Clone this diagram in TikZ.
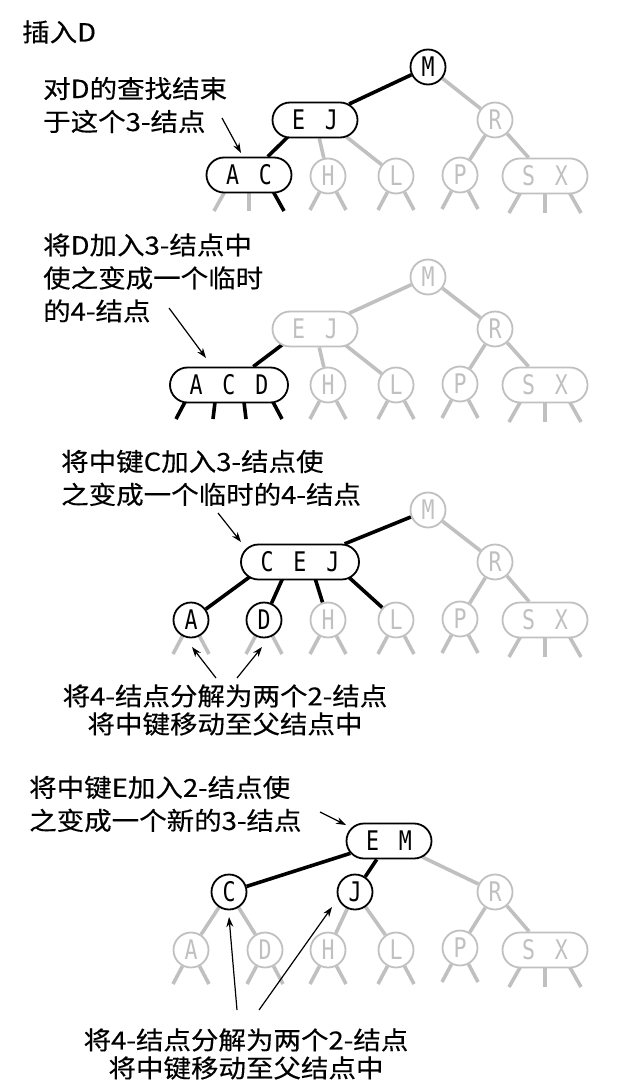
\documentclass[tikz,border=0pt]{standalone}
\usepackage{fontspec}
\usepackage{tikz}
\usetikzlibrary{calc}
\usetikzlibrary{shapes.misc}
\usetikzlibrary{arrows.meta}
\usetikzlibrary{backgrounds}

\newfontfamily\notefam{Noto Sans CJK SC}[FakeStretch=1.1, FakeBold=0.3]
\newfontfamily\keyfam{DejaVu Sans Mono}[FakeStretch=0.8]
\definecolor{lite}{RGB}{192,192,192}
\newcommand{\kbox}[1]{\makebox[33pt]{#1}}

\begin{document}
\begin{tikzpicture}[x=1pt, y=-1pt,
    key/.style={circle, draw=black, line width=1.8pt, fill=white, minimum size=35pt, inner sep=0pt, font=\keyfam\fontsize{27}{27}\selectfont},
    gkey/.style={key, draw=lite, text=lite},
    two/.style={rounded rectangle, draw=black, line width=1.8pt, fill=white, minimum width=85pt, minimum height=35pt, inner sep=0pt, font=\keyfam\fontsize{27}{27}\selectfont},
    gtwo/.style={two, draw=lite, text=lite},
    three/.style={two, minimum width=118pt},
    link/.style={line width=3.6pt, black},
    glink/.style={line width=3.6pt, lite},
    note/.style={font=\notefam\fontsize{25}{33}\selectfont, align=left, anchor=west, inner sep=0pt},
    split/.style={font=\notefam\fontsize{25}{28}\selectfont, align=center, inner sep=0pt},
    ptr/.style={line width=1.2pt, -{Stealth[length=10pt,width=7pt]}}]
    \useasboundingbox (0,0) rectangle (617,1086);

    % search for D
    \node[note] (title) at (22,32) {插入D};
    \node[note] (t1) at (43,105) {对D的查找结束\\于这个3-结点};
    \node[key] (M1) at (428,67) {M};
    \node[two] (EJ1) at (315,120) {\kbox{E}\kbox{J}};
    \node[gkey] (R1) at (495,120) {R};
    \node[two] (AC1) at (249,175) {\kbox{A}\kbox{C}};
    \node[gkey] (H1) at (328,176) {H};
    \node[gkey] (L1) at (396,176) {L};
    \node[gkey] (P1) at (460,175) {P};
    \node[gtwo] (SX1) at (545,176) {\kbox{S}\kbox{X}};
    \coordinate (a1s) at (222,118);
    \coordinate (a1e) at (241,153);
    \draw[ptr] (a1s) -- (a1e);
    \begin{scope}[on background layer]
        \draw[link] (M1) -- (EJ1);
        \draw[glink] (M1) -- (R1);
        \draw[link] ($(EJ1)+(-10,0)$) -- (AC1);
        \draw[glink] (EJ1) -- (H1);
        \draw[glink] ($(EJ1)+(10,0)$) -- (L1);
        \draw[glink] (R1) -- (P1);
        \draw[glink] (R1) -- (SX1);
        \draw[glink] ($(AC1)+(-15,0)$) -- ++(-20,36);
        \draw[glink] (AC1) -- ++(0,36);
        \draw[link] ($(AC1)+(15,0)$) -- ++(20,36);
        \foreach \n in {H1,L1,P1}
        {
            \draw[glink] (\n) -- ++(-18,34);
            \draw[glink] (\n) -- ++(18,34);
        }
        \foreach \d in {-1,0,1}
            \draw[glink] ($(SX1)+(15*\d,0)$) -- ++(21*\d,37);
    \end{scope}

    % temporary 4-node
    \node[note] (t2) at (43,278) {将D加入3-结点中\\使之变成一个临时\\的4-结点};
    \node[gkey] (M2) at (428,277) {M};
    \node[gtwo] (EJ2) at (315,329) {\kbox{E}\kbox{J}};
    \node[gkey] (R2) at (495,329) {R};
    \node[three] (ACD2) at (229,385) {\kbox{A}\kbox{C}\kbox{D}};
    \node[gkey] (H2) at (328,385) {H};
    \node[gkey] (L2) at (396,385) {L};
    \node[gkey] (P2) at (460,384) {P};
    \node[gtwo] (SX2) at (545,385) {\kbox{S}\kbox{X}};
    \coordinate (a2s) at (169,308);
    \coordinate (a2e) at (206,358);
    \draw[ptr] (a2s) -- (a2e);
    \begin{scope}[on background layer]
        \draw[glink] (M2) -- (EJ2);
        \draw[glink] (M2) -- (R2);
        \draw[link] ($(EJ2)+(-12,0)$) -- (ACD2);
        \draw[glink] (EJ2) -- (H2);
        \draw[glink] ($(EJ2)+(10,0)$) -- (L2);
        \draw[glink] (R2) -- (P2);
        \draw[glink] (R2) -- (SX2);
        \foreach \dx/\ex in {-35/-18,-12/-4,13/4,35/18}
            \draw[link] ($(ACD2)+(\dx,0)$) -- ++(\ex,34);
        \foreach \n in {H2,L2,P2}
        {
            \draw[glink] (\n) -- ++(-18,34);
            \draw[glink] (\n) -- ++(18,34);
        }
        \foreach \d in {-1,0,1}
            \draw[glink] ($(SX2)+(15*\d,0)$) -- ++(21*\d,37);
    \end{scope}

    % middle key C moves up
    \node[note] (t3) at (61,478) {将中键C加入3-结点使\\之变成一个临时的4-结点};
    \node[gkey] (M3) at (428,510) {M};
    \node[three] (CEJ3) at (300,562) {\kbox{C}\kbox{E}\kbox{J}};
    \node[gkey] (R3) at (495,562) {R};
    \node[key] (A3) at (191,620) {A};
    \node[key] (D3) at (264,620) {D};
    \node[gkey] (H3) at (328,620) {H};
    \node[gkey] (L3) at (396,620) {L};
    \node[gkey] (P3) at (460,619) {P};
    \node[gtwo] (SX3) at (545,620) {\kbox{S}\kbox{X}};
    \node[split] (t4) at (225,710) {将4-结点分解为两个2-结点\\将中键移动至父结点中};
    \coordinate (a3s) at (218,513);
    \coordinate (a3e) at (241,542);
    \coordinate (a4s) at (216,678);
    \coordinate (a4e) at (192,647);
    \coordinate (a5s) at (237,678);
    \coordinate (a5e) at (262,647);
    \draw[ptr] (a3s) -- (a3e);
    \draw[ptr] (a4s) -- (a4e);
    \draw[ptr] (a5s) -- (a5e);
    \begin{scope}[on background layer]
        \draw[link] (M3) -- (CEJ3);
        \draw[glink] (M3) -- (R3);
        \draw[link] ($(CEJ3)+(-30,0)$) -- (A3);
        \draw[link] ($(CEJ3)+(-10,0)$) -- (D3);
        \draw[link] ($(CEJ3)+(10,0)$) -- (H3);
        \draw[link] ($(CEJ3)+(32,0)$) -- (L3);
        \draw[glink] (R3) -- (P3);
        \draw[glink] (R3) -- (SX3);
        \foreach \n in {A3,D3,H3,L3,P3}
        {
            \draw[glink] (\n) -- ++(-18,34);
            \draw[glink] (\n) -- ++(18,34);
        }
        \foreach \d in {-1,0,1}
            \draw[glink] ($(SX3)+(15*\d,0)$) -- ++(21*\d,37);
    \end{scope}

    % new 3-node at the root
    \node[note] (t5) at (29,804) {将中键E加入2-结点使\\之变成一个新的3-结点};
    \node[two] (EM4) at (389,841) {\kbox{E}\kbox{M}};
    \node[key] (C4) at (229,892) {C};
    \node[key] (J4) at (355,892) {J};
    \node[gkey] (R4) at (495,892) {R};
    \node[gkey] (A4) at (191,950) {A};
    \node[gkey] (D4) at (265,950) {D};
    \node[gkey] (H4) at (328,950) {H};
    \node[gkey] (L4) at (396,950) {L};
    \node[gkey] (P4) at (460,948) {P};
    \node[gtwo] (SX4) at (545,950) {\kbox{S}\kbox{X}};
    \node[split] (t6) at (246,1054) {将4-结点分解为两个2-结点\\将中键移动至父结点中};
    \coordinate (a6s) at (320,812);
    \coordinate (a6e) at (346,825);
    \coordinate (a7s) at (237,1010);
    \coordinate (a7e) at (229,917);
    \coordinate (a8s) at (259,1010);
    \coordinate (a8e) at (332,907);
    \draw[ptr] (a6s) -- (a6e);
    \draw[ptr] (a7s) -- (a7e);
    \draw[ptr] (a8s) -- (a8e);
    \begin{scope}[on background layer]
        \draw[link] (EM4) -- (C4);
        \draw[link] (EM4) -- (J4);
        \draw[glink] (EM4) -- (R4);
        \draw[glink] (C4) -- (A4);
        \draw[glink] (C4) -- (D4);
        \draw[glink] (J4) -- (H4);
        \draw[glink] (J4) -- (L4);
        \draw[glink] (R4) -- (P4);
        \draw[glink] (R4) -- (SX4);
        \foreach \n in {A4,D4,H4,L4,P4}
        {
            \draw[glink] (\n) -- ++(-18,34);
            \draw[glink] (\n) -- ++(18,34);
        }
        \foreach \d in {-1,0,1}
            \draw[glink] ($(SX4)+(15*\d,0)$) -- ++(21*\d,37);
    \end{scope}
\end{tikzpicture}
\end{document}
